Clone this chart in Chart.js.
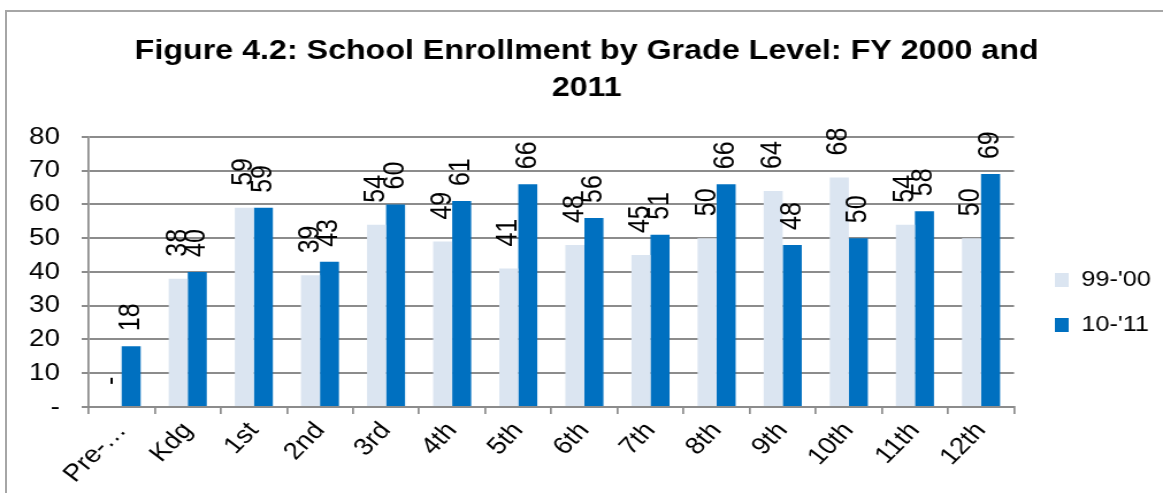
<!DOCTYPE html>
<html>
<head>
<meta charset="utf-8">
<script src="https://cdn.jsdelivr.net/npm/chart.js@4"></script>
<style>
  html, body { margin: 0; padding: 0; background: #fff; overflow: hidden; }
  #frame { position: absolute; left: 5px; top: 10px; width: 1300px; height: 600px; border-left: 2px solid #a6a6a6; border-top: 2px solid #a6a6a6; }
  #chart { position: absolute; left: 0; top: 0; }
</style>
</head>
<body>
<div id="frame"></div>
<!-- the source picture is stretched sideways, so the canvas is drawn narrow and widened by css -->
<canvas id="chart" width="1011" height="493" style="width:1163px;height:493px"></canvas>
<script>
const grades = ['Pre-…', 'Kdg', '1st', '2nd', '3rd', '4th', '5th', '6th', '7th', '8th', '9th', '10th', '11th', '12th'];
const fy2000 = [0, 38, 59, 39, 54, 49, 41, 48, 45, 50, 64, 68, 54, 50];
const fy2011 = [18, 40, 59, 43, 60, 61, 66, 56, 51, 66, 48, 50, 58, 69];
const yTicks = [0, 10, 20, 30, 40, 50, 60, 70, 80];

Chart.defaults.font.family = '"Liberation Sans", Arial, sans-serif';
Chart.defaults.color = '#000';

const labelGap = [22, 15];

// rotated value labels above each bar, plus legend / title nudge
const barLabels = {
  id: 'barLabels',
  afterLayout(chart) {
    const lg = chart.legend;
    const pad = lg.options.labels.padding;
    const dx = 917 - (lg.left + pad);
    lg.left += dx; lg.right += dx;
    const y0 = (lg.top + pad + lg.bottom - lg.columnSizes[0].height) / 2;
    const dy = 269 - y0;
    lg.top += dy; lg.bottom += dy;
    const tb = chart.titleBlock;
    tb.left += 11; tb.right += 11;
  },
  afterDatasetsDraw(chart) {
    const ctx = chart.ctx;
    ctx.save();
    ctx.font = '25px "Liberation Sans", Arial, sans-serif';
    ctx.fillStyle = '#000';
    ctx.textAlign = 'left';
    ctx.textBaseline = 'middle';
    chart.data.datasets.forEach((ds, i) => {
      chart.getDatasetMeta(i).data.forEach((bar, j) => {
        const v = ds.data[j];
        ctx.save();
        ctx.translate(bar.x, bar.y - labelGap[i]);
        ctx.rotate(-Math.PI / 2);
        ctx.fillText(v === 0 ? '-' : String(v), 0, 0);
        ctx.restore();
      });
    });
    ctx.restore();
  }
};

new Chart(document.getElementById('chart'), {
  type: 'bar',
  data: {
    labels: grades,
    datasets: [
      { label: "99-'00", data: fy2000, backgroundColor: '#dbe5f1', barPercentage: 1, categoryPercentage: 0.576 },
      { label: "10-'11", data: fy2011, backgroundColor: '#0070c0', barPercentage: 1, categoryPercentage: 0.576 }
    ]
  },
  options: {
    responsive: false,
    animation: false,
    layout: { padding: { left: 0, right: 13, top: 0, bottom: 0 } },
    plugins: {
      title: {
        display: true,
        text: ['Figure 4.2: School Enrollment by Grade Level: FY 2000 and', '2011'],
        font: { size: 28, weight: 'bold', lineHeight: 1.32 },
        padding: { top: 33, bottom: 30 }
      },
      legend: {
        position: 'right',
        labels: { boxWidth: 12, boxHeight: 14, font: { size: 22 }, padding: 23 }
      },
      tooltip: { enabled: false }
    },
    scales: {
      x: {
        afterFit: axis => { axis.height = 86; },
        grid: { drawOnChartArea: false, color: '#8c8c8c', lineWidth: 1.7, tickLength: 7 },
        border: { color: '#8c8c8c', width: 2 },
        ticks: { font: { size: 24 }, maxRotation: 49, minRotation: 49, autoSkip: false, padding: 3 }
      },
      y: {
        min: 0,
        max: 80,
        afterFit: axis => { axis.width = 77; },
        afterBuildTicks: axis => { axis.ticks = yTicks.map(v => ({ value: v })); },
        grid: { color: '#8c8c8c', lineWidth: 2, tickLength: 6 },
        border: { color: '#8c8c8c', width: 1.7 },
        ticks: { font: { size: 24 }, padding: 19, callback: v => v === 0 ? '-' : v }
      }
    }
  },
  plugins: [barLabels]
});
</script>
</body>
</html>
